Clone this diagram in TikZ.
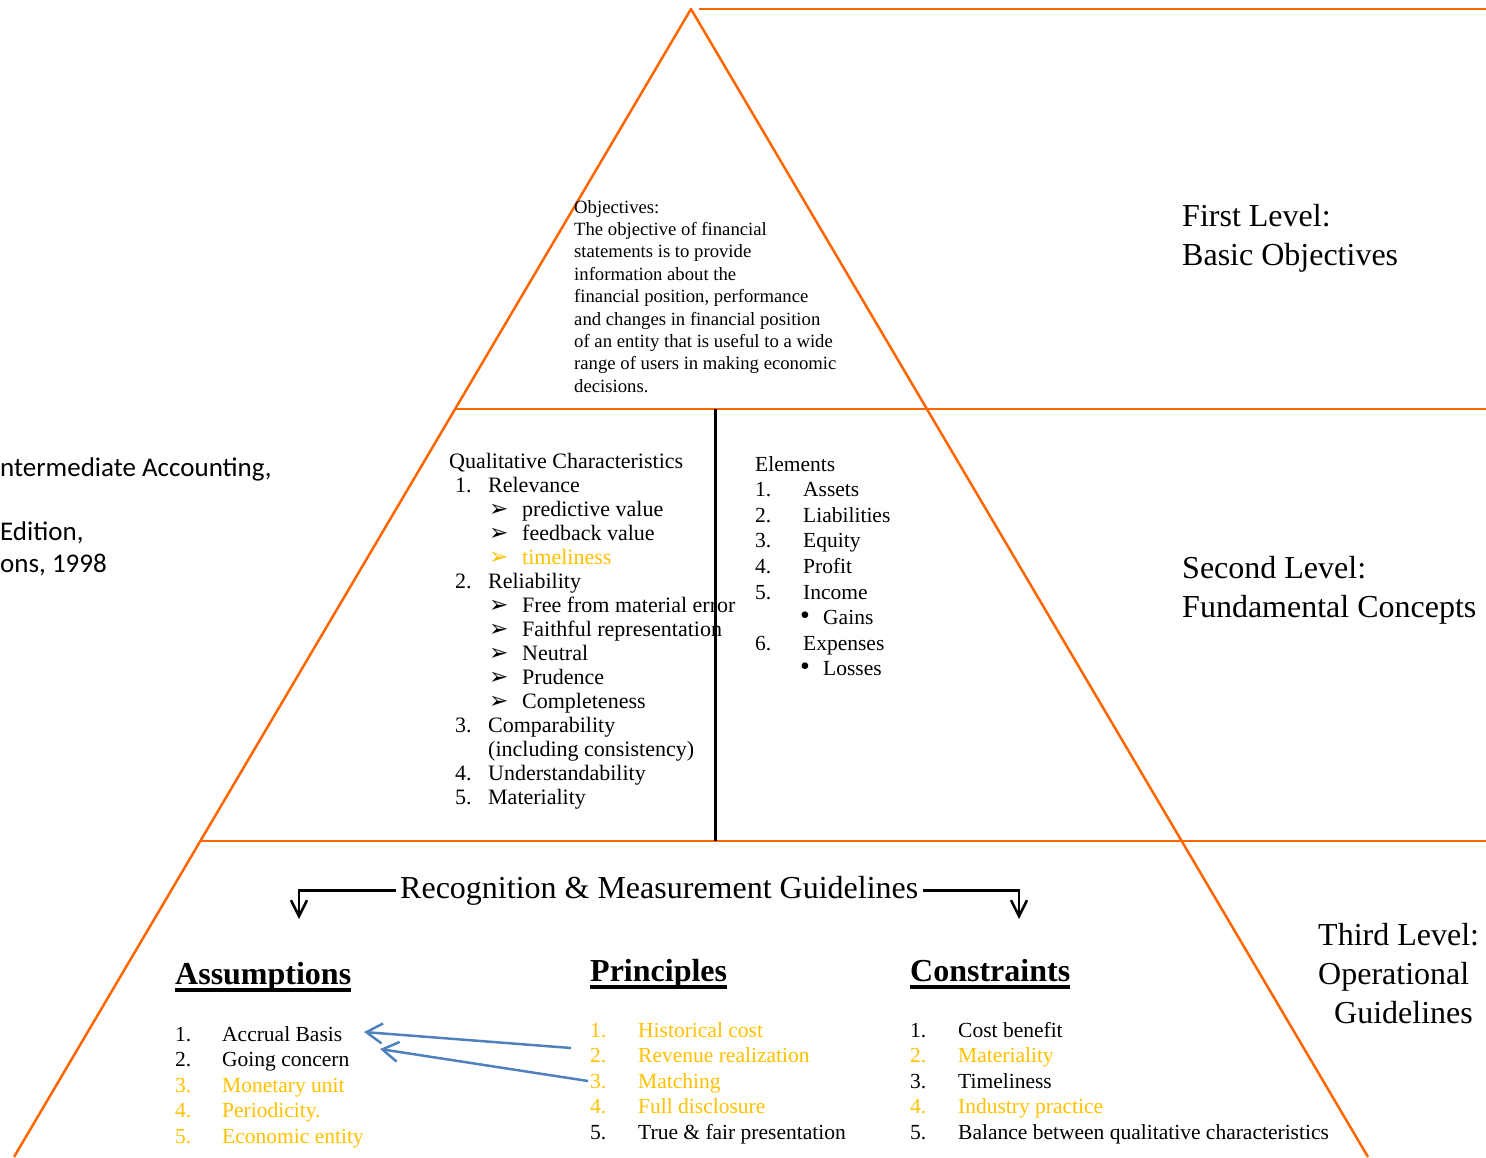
\documentclass[tikz,border=0pt]{standalone}
\usepackage{fontspec}
\setmainfont{Liberation Serif}
\newfontfamily\carlito{Carlito}
\newfontfamily\dejavu{DejaVu Sans}
\usepackage{tikz}
\usetikzlibrary{positioning}
\usetikzlibrary{arrows.meta}

\definecolor{lvlorange}{RGB}{255,102,0}
\definecolor{gold}{RGB}{255,192,0}
\definecolor{linkblue}{RGB}{79,129,189}

\newcommand{\arrbul}{{\dejavu\fontsize{23}{16}\selectfont ➢}}
\newcommand{\headul}[1]{\setbox0\hbox{#1}\rlap{\rule[-7.5pt]{\wd0}{3.5pt}}\box0}
\newcommand{\qcnum}[1]{\hspace*{6pt}\makebox[33pt][l]{#1}}
\newcommand{\qcsub}[1]{\hspace*{40pt}\makebox[33pt][l]{\arrbul}#1}
\newcommand{\elnum}[1]{\makebox[48pt][l]{#1}}
\newcommand{\elbul}[1]{\hspace*{45pt}\makebox[23pt][l]{\fontsize{28}{25}\selectfont\textbullet}#1}
\newcommand{\lnum}[2]{\makebox[47pt][l]{#1}#2}
\newcommand{\pnum}[2]{\makebox[48pt][l]{#1}#2}

\begin{document}
\begin{tikzpicture}[x=1pt,y=-1pt,
    lvl/.style={draw=lvlorange,line width=2.5pt},
    body/.style={inner sep=0pt,anchor=north west,align=left},
    level/.style={font=\fontsize{32}{39}\selectfont},
    head/.style={inner sep=0pt,anchor=base west,font=\bfseries\fontsize{32}{39}\selectfont},
    guide/.style={line width=2.5pt,-{Straight Barb[length=16pt,width=16pt]}},
    link/.style={draw=linkblue,line width=2.5pt,-{Straight Barb[length=16pt,width=20pt]}}]
    \useasboundingbox (0,0) rectangle (1486,1157);

    % Pyramid
    \coordinate (apex) at (691,9);
    \coordinate (bl) at (14,1157);
    \coordinate (br) at (1368,1157);
    \draw[lvl,line join=round] (bl) -- (apex) -- (br);
    \draw[lvl] (699,9) -- (1486,9);
    \draw[lvl] (456,409) -- (1486,409);
    \draw[lvl] (201,841) -- (1486,841);
    \draw[line width=3pt] (715,409) -- (715,841);

    % First level
    \node[body,font=\fontsize{18.7}{22.4}\selectfont] (objectives) at (574,200)
        {Objectives:\\The objective of financial\\statements is to provide\\information about the\\financial position, performance\\and changes in financial position\\of an entity that is useful to a wide\\range of users in making economic\\decisions.};
    \node[body,level] (first) at (1182,204) {First Level:\\Basic Objectives};

    % Second level
    \node[body,font=\fontsize{22}{24}\selectfont] (qualitative) at (449,453)
        {Qualitative Characteristics\\
         \qcnum{1.}Relevance\\
         \qcsub{predictive value}\\
         \qcsub{feedback value}\\
         \textcolor{gold}{\qcsub{timeliness}}\\
         \qcnum{2.}Reliability\\
         \qcsub{Free from material error}\\
         \qcsub{Faithful representation}\\
         \qcsub{Neutral}\\
         \qcsub{Prudence}\\
         \qcsub{Completeness}\\
         \qcnum{3.}Comparability\\
         \hspace*{39pt}(including consistency)\\
         \qcnum{4.}Understandability\\
         \qcnum{5.}Materiality};
    \node[body,font=\fontsize{21.5}{25.6}\selectfont] (elements) at (755,456)
        {Elements\\
         \elnum{1.}Assets\\
         \elnum{2.}Liabilities\\
         \elnum{3.}Equity\\
         \elnum{4.}Profit\\
         \elnum{5.}Income\\
         \elbul{Gains}\\
         \elnum{6.}Expenses\\
         \elbul{Losses}};
    \node[body,level] (second) at (1182,556) {Second Level:\\Fundamental Concepts};
    \node[body,font=\carlito\fontsize{27}{32}\selectfont] (source) at (0,458)
        {ntermediate Accounting,\\ \mbox{}\\ Edition,\\ ons, 1998};

    % Third level
    \node[inner xsep=4pt,inner ysep=0pt,anchor=base west,level] (rmg) at (396,898)
        {Recognition \& Measurement Guidelines};
    \coordinate (assumtip) at (299,919);
    \coordinate (constip) at (1019,919);
    \draw[guide] (rmg.west) -| (assumtip);
    \draw[guide] (rmg.east) -| (constip);

    \node[head] (assumptions) at (175,984) {\headul{Assumptions}};
    \node[head] (principles) at (590,981) {\headul{Principles}};
    \node[head] (constraints) at (910,981) {\headul{Constraints}};

    \node[body,font=\fontsize{21.5}{25.5}\selectfont] (assumlist) at (175,1026)
        {\lnum{1.}{Accrual Basis}\\
         \lnum{2.}{Going concern}\\
         \textcolor{gold}{\lnum{3.}{Monetary unit}}\\
         \textcolor{gold}{\lnum{4.}{Periodicity.}}\\
         \textcolor{gold}{\lnum{5.}{Economic entity}}};
    \node[body,font=\fontsize{21.5}{25.5}\selectfont] (principlelist) at (590,1022)
        {\textcolor{gold}{\pnum{1.}{Historical cost}}\\
         \textcolor{gold}{\pnum{2.}{Revenue realization}}\\
         \textcolor{gold}{\pnum{3.}{Matching}}\\
         \textcolor{gold}{\pnum{4.}{Full disclosure}}\\
         \pnum{5.}{True \& fair presentation}};
    \node[body,font=\fontsize{21.5}{25.5}\selectfont] (constraintlist) at (910,1022)
        {\pnum{1.}{Cost benefit}\\
         \textcolor{gold}{\pnum{2.}{Materiality}}\\
         \pnum{3.}{Timeliness}\\
         \textcolor{gold}{\pnum{4.}{Industry practice}}\\
         \pnum{5.}{Balance between qualitative characteristics}};
    \node[body,level] (third) at (1318,923)
        {Third Level:\\Operational\\\hspace*{16pt}Guidelines};

    % Links
    \coordinate (histstart) at ([shift={(-19,26)}]principlelist.north west);
    \coordinate (matchstart) at ([shift={(-2,59)}]principlelist.north west);
    \coordinate (accrualtip) at ([shift={(189,6)}]assumlist.north west);
    \coordinate (goingtip) at ([shift={(205,23)}]assumlist.north west);
    \draw[link] (histstart) -- (accrualtip);
    \draw[link] (matchstart) -- (goingtip);
\end{tikzpicture}
\end{document}
